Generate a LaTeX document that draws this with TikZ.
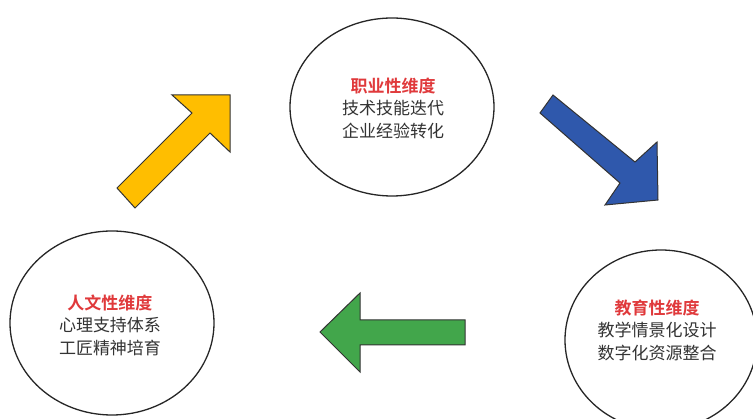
\documentclass[tikz,border=0pt]{standalone}
\usepackage{fontspec}
\setmainfont{Noto Sans CJK SC}
\newfontfamily\cjk{Noto Sans CJK SC}
\newfontfamily\cjkb{Noto Sans CJK SC Bold}
\usetikzlibrary{shapes.geometric}
\definecolor{dimred}{HTML}{E0393B}
\definecolor{bodytxt}{HTML}{333333}
\definecolor{arrowyel}{HTML}{FFBE00}
\definecolor{arrowblu}{HTML}{2F58AC}
\definecolor{arrowgrn}{HTML}{42A64B}
\tikzset{
  dimcircle/.style={ellipse, draw=black!85, line width=1.3pt, fill=white, inner sep=0pt},
  dimtext/.style={align=center, font=\cjk\fontsize{17}{22.5}\selectfont, text=bodytxt},
  bigarrow/.style={draw=black!80, line width=1pt, line join=miter}
}
\newcommand{\dimtitle}[1]{{\cjkb\color{dimred}#1}}
\begin{document}
\begin{tikzpicture}[x=1pt,y=-1pt]
\useasboundingbox (0,0) rectangle (753,419);
\fill[white] (0,0) rectangle (753,419);
% circles
\node[dimcircle, minimum width=204pt, minimum height=178pt] (top) at (392,107) {};
\node[dimcircle, minimum width=204pt, minimum height=184pt] (left) at (112,323) {};
\node[dimcircle, minimum width=192pt, minimum height=180pt] (right) at (661,340) {};
% texts
\node[dimtext] (toptxt) at (393,108) {\dimtitle{职业性维度}\\技术技能迭代\\企业经验转化};
\node[dimtext] (lefttxt) at (110,325) {\dimtitle{人文性维度}\\心理支持体系\\工匠精神培育};
\node[dimtext] (righttxt) at (657,330) {\dimtitle{教育性维度}\\教学情景化设计\\数字化资源整合};
% arrows
\draw[bigarrow, fill=arrowyel] (117,188) -- (192,113) -- (172,95) -- (230,95) -- (230,152) -- (210,133) -- (135,208) -- cycle;
\draw[bigarrow, fill=arrowblu] (553,95) -- (635,162) -- (657,142) -- (658,200) -- (605,205) -- (620,183) -- (540,113) -- cycle;
\draw[bigarrow, fill=arrowgrn] (465,320) -- (360,320) -- (360,293) -- (320,332) -- (360,372) -- (360,345) -- (465,345) -- cycle;
\end{tikzpicture}
\end{document}
